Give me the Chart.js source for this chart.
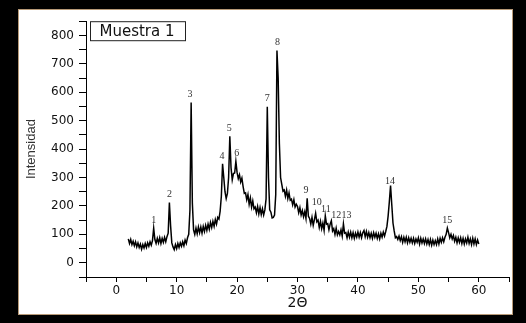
<!DOCTYPE html>
<html>
<head>
<meta charset="utf-8">
<script src="https://cdn.jsdelivr.net/npm/chart.js@4.4.1/dist/chart.umd.min.js"></script>
<style>
html,body{margin:0;padding:0;background:#000;width:526px;height:323px;overflow:hidden;}
#wrap{position:absolute;left:18px;top:9px;width:495px;height:306px;background:#fff;box-shadow:inset 0 0 0 1px #b89a78;}
canvas{display:block;}
</style>
</head>
<body>
<div id="wrap"><canvas id="c" width="495" height="306"></canvas></div>
<script>
const twoTheta = [
 2.0,2.2,2.4,2.6,2.8, 3.0,3.2,3.4,3.6,3.8, 4.0,4.2,4.4,4.6,4.8, 5.0,5.2,5.4,5.6,5.8,
 6.0,6.2,6.4,6.6,6.8, 7.0,7.2,7.4,7.6,7.8, 8.0,8.2,8.4,8.6,8.8, 9.0,9.2,9.4,9.6,9.8,
 10.0,10.2,10.4,10.6,10.8, 11.0,11.2,11.4,11.6,11.8, 12.0,12.2,12.4,12.6,12.8, 13.0,13.2,13.4,13.6,13.8,
 14.0,14.2,14.4,14.6,14.8, 15.0,15.2,15.4,15.6,15.8, 16.0,16.2,16.4,16.6,16.8, 17.0,17.2,17.4,17.6,17.8,
 18.0,18.2,18.4,18.6,18.8, 19.0,19.2,19.4,19.6,19.8, 20.0,20.2,20.4,20.6,20.8, 21.0,21.2,21.4,21.6,21.8,
 22.0,22.2,22.4,22.6,22.8, 23.0,23.2,23.4,23.6,23.8, 24.0,24.2,24.4,24.6,24.8, 25.0,25.2,25.4,25.6,25.8,
 26.0,26.2,26.4,26.6,26.8, 27.0,27.2,27.4,27.6,27.8, 28.0,28.2,28.4,28.6,28.8, 29.0,29.2,29.4,29.6,29.8,
 30.0,30.2,30.4,30.6,30.8, 31.0,31.2,31.4,31.6,31.8, 32.0,32.2,32.4,32.6,32.8, 33.0,33.2,33.4,33.6,33.8,
 34.0,34.2,34.4,34.6,34.8, 35.0,35.2,35.4,35.6,35.8, 36.0,36.2,36.4,36.6,36.8, 37.0,37.2,37.4,37.6,37.8,
 38.0,38.2,38.4,38.6,38.8, 39.0,39.2,39.4,39.6,39.8, 40.0,40.2,40.4,40.6,40.8, 41.0,41.2,41.4,41.6,41.8,
 42.0,42.2,42.4,42.6,42.8, 43.0,43.2,43.4,43.6,43.8, 44.0,44.2,44.4,44.6,44.8, 45.0,45.2,45.4,45.6,45.8,
 46.0,46.2,46.4,46.6,46.8, 47.0,47.2,47.4,47.6,47.8, 48.0,48.2,48.4,48.6,48.8, 49.0,49.2,49.4,49.6,49.8,
 50.0,50.2,50.4,50.6,50.8, 51.0,51.2,51.4,51.6,51.8, 52.0,52.2,52.4,52.6,52.8, 53.0,53.2,53.4,53.6,53.8,
 54.0,54.2,54.4,54.6,54.8, 55.0,55.2,55.4,55.6,55.8, 56.0,56.2,56.4,56.6,56.8, 57.0,57.2,57.4,57.6,57.8,
 58.0,58.2,58.4,58.6,58.8, 59.0,59.2,59.4,59.6,59.8, 60.0
];
const intensity = [
 84,68,82,64,76, 60,74,56,70,54, 66,48,64,52,68, 54,70,58,74,62,
 78,122,82,68,86, 70,88,68,86,72, 90,74,92,104,212, 130,70,56,46,64,
 50,68,54,70,58, 74,60,80,68,88, 100,185,564,210,116, 100,122,102,126,106,
 126,104,128,110,132, 114,136,118,142,124, 146,128,152,136,160, 154,182,235,348,300,
 250,226,244,300,445, 335,292,314,316,357, 318,296,310,284,298, 268,244,246,222,240,
 206,228,196,218,190, 196,176,198,172,194, 170,190,168,186,225, 549,300,186,178,158,
 160,168,240,747,650, 420,300,276,252,256, 234,256,226,246,220, 224,204,222,196,206,
 198,176,194,168,184, 162,180,156,227,164, 156,136,160,132,152, 174,144,150,124,146,
 120,140,114,165,136, 138,116,136,148,112, 120,100,122,98,110, 98,116,94,137,104,
 106,88,108,90,108, 88,106,86,104,90, 108,90,106,88,106, 114,92,110,90,106,
 88,104,86,106,90, 104,86,102,84,104, 90,108,94,110,128, 165,215,272,205,140,
 112,88,92,82,94, 78,92,72,90,74, 90,70,88,72,86, 70,86,68,84,72,
 88,66,86,70,84, 68,84,66,82,64, 82,62,80,64,78, 64,84,66,86,72,
 88,74,90,100,122, 106,88,100,84,96, 76,90,70,88,72, 88,68,86,66,84,
 70,90,68,84,64, 86,66,84,64,80, 66
];
const peakLabels = ['1','2','3','4','5','6','7','8','9','10','11','12','13','14','15'];
const peakAt = [6.2, 8.8, 12.2, 17.5, 18.7, 19.95, 25.0, 26.7, 31.4, 33.2, 34.7, 36.4, 38.1, 45.3, 54.8];
const peakTop = [122, 212, 564, 348, 445, 357, 549, 747, 227, 183, 160, 140, 140, 260, 122];
const xTickLabels = [0, 10, 20, 30, 40, 50, 60];
const yTickLabels = [0, 100, 200, 300, 400, 500, 600, 700, 800];
const seriesName = 'Muestra 1';

const points = twoTheta.map((x, i) => ({x: x, y: intensity[i]}));

const extras = {
  id: 'extras',
  afterDatasetsDraw(chart) {
    const ctx = chart.ctx, xs = chart.scales.x, ys = chart.scales.y, ca = chart.chartArea;
    ctx.save();
    ctx.fillStyle = '#333';
    ctx.font = '10px "Liberation Serif", "Times New Roman", serif';
    ctx.textAlign = 'center';
    ctx.textBaseline = 'middle';
    peakLabels.forEach((t, i) => {
      ctx.fillText(t, xs.getPixelForValue(peakAt[i]), ys.getPixelForValue(peakTop[i]) - 8);
    });
    const bx = ca.left + 4.5, by = ca.top + 0.5, bw = 95, bh = 19;
    ctx.fillStyle = '#fff';
    ctx.fillRect(bx, by, bw, bh);
    ctx.strokeStyle = '#222';
    ctx.lineWidth = 1;
    ctx.strokeRect(bx, by, bw, bh);
    ctx.fillStyle = '#111';
    ctx.font = '15px "DejaVu Sans", sans-serif';
    ctx.textAlign = 'left';
    ctx.fillText(seriesName, bx + 9, by + bh / 2 + 0.5);
    ctx.restore();
  }
};

new Chart(document.getElementById('c'), {
  type: 'line',
  data: {
    datasets: [{
      label: seriesName,
      data: points,
      borderColor: '#000',
      borderWidth: 1.5,
      pointRadius: 0,
      tension: 0,
      fill: false
    }]
  },
  options: {
    responsive: false,
    animation: false,
    devicePixelRatio: 1,
    layout: {padding: {top: 3, right: 4, left: 0, bottom: 0}},
    plugins: {legend: {display: false}, tooltip: {enabled: false}},
    scales: {
      x: {
        type: 'linear',
        min: -5, max: 65,
        afterFit(s) { s.height = 38; },
        ticks: {
          stepSize: 5,
          autoSkip: false,
          maxRotation: 0,
          padding: 2,
          color: '#111',
          font: {family: '"DejaVu Sans", sans-serif', size: 12},
          callback: v => xTickLabels.includes(v) ? String(v) : ''
        },
        grid: {display: true, drawOnChartArea: false, drawTicks: true, tickLength: 5, tickColor: '#000'},
        border: {display: true, color: '#000', width: 1},
        title: {display: true, text: '2Θ', color: '#111', font: {family: '"DejaVu Sans", sans-serif', size: 14}, padding: {top: 0, bottom: 3}}
      },
      y: {
        type: 'linear',
        min: -50, max: 850,
        afterFit(s) { s.width = 68; },
        ticks: {
          stepSize: 50,
          autoSkip: false,
          padding: 5,
          color: '#111',
          font: {family: '"DejaVu Sans", sans-serif', size: 12},
          callback: v => yTickLabels.includes(v) ? String(v) : ''
        },
        grid: {display: true, drawOnChartArea: false, drawTicks: true, tickLength: 7, tickColor: '#000'},
        border: {display: true, color: '#000', width: 1},
        title: {display: true, text: 'Intensidad', color: '#333', font: {family: '"Liberation Sans", Arial, sans-serif', size: 13}, padding: {top: 6, bottom: 0}}
      }
    }
  },
  plugins: [extras]
});
</script>
</body>
</html>
